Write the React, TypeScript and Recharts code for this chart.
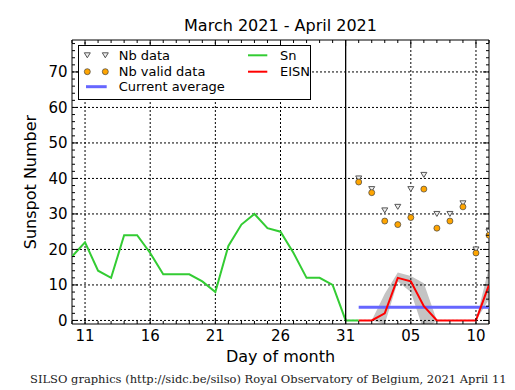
import React from "react";
import {
  ComposedChart, Line, Area, Scatter, XAxis, YAxis,
  ReferenceLine, ReferenceArea, Legend,
} from "recharts";

// ─── SILSO daily sunspot plot, March – April 2021 ───────────────────────────

// Sn (definitive daily number), one value per day of March (10 … 31) and Apr 1 (= day 32)
const SN_DAYS   = [10, 11, 12, 13, 14, 15, 16, 17, 18, 19, 20, 21, 22, 23, 24, 25, 26, 27, 28, 29, 30, 31, 32];
const SN_VALUES = [18, 22, 14, 12, 24, 24, 19, 13, 13, 13, 11, 8, 21, 27, 30, 26, 25, 19, 12, 12, 10, 0, 0];

// EISN (estimated), April days counted on from March 31
const EISN_DAYS   = [32, 33, 34, 35, 36, 37, 38, 39, 40, 41, 42];
const EISN_VALUES = [0, 0, 2, 12, 11, 4, 0, 0, 0, 0, 10];
const EISN_LOW    = [0, 0, -1, 11, 8, -3, 0, 0, 0, 0, 6];
const EISN_HIGH   = [0, 0, 7.5, 13.5, 12.5, 10.5, 0, 0, 0, 0, 15];

const CURRENT_AVERAGE = 3.7;

// station counts
const NB_DAYS  = [32, 33, 34, 35, 36, 37, 38, 39, 40, 41, 42];
const NB_RAW   = [40, 37, 31, 32, 37, 41, 30, 30, 33, 20, 25];
const NB_VALID = [39, 36, 28, 27, 29, 37, 26, 28, 32, 19, 24];

// axes
const X_DOMAIN      = [10, 42];
const X_MAJOR       = [11, 16, 21, 26, 31, 36, 41];
const X_MAJOR_LABEL = ["11", "16", "21", "26", "31", "05", "10"];
const Y_DOMAIN      = [-1, 79];
const Y_MAJOR       = [0, 10, 20, 30, 40, 50, 60, 70];

const X_MINOR = Array.from({ length: 33 }, (_, i) => 10 + i);
const Y_MINOR = Array.from({ length: 40 }, (_, i) => i * 2);

// ─── layout ─────────────────────────────────────────────────────────────────
const W = 515, H = 390;
const PLOT = { left: 72, right: 489, top: 40, bottom: 324 };
const FONT  = "'DejaVu Sans', sans-serif";
const SERIF = "'DejaVu Serif', serif";
const GRID = { stroke: "#000", strokeWidth: 1, strokeDasharray: "2 2" };

const table = (() => {
  const rows = new Map<number, Record<string, unknown>>();
  const row = (d: number) => {
    if (!rows.has(d)) rows.set(d, { day: d });
    return rows.get(d)!;
  };
  SN_DAYS.forEach((d, i) => { row(d).sn = SN_VALUES[i]; });
  EISN_DAYS.forEach((d, i) => {
    const r = row(d);
    r.eisn = EISN_VALUES[i];
    r.band = [EISN_LOW[i], EISN_HIGH[i]];
    r.avg  = CURRENT_AVERAGE;
  });
  return [...rows.values()].sort((a, b) => (a.day as number) - (b.day as number));
})();

const nbRaw   = NB_DAYS.map((day, i) => ({ day, nb: NB_RAW[i] }));
const nbValid = NB_DAYS.map((day, i) => ({ day, nb: NB_VALID[i] }));

// ticks point inwards, on all four sides, matplotlib style
function XTick(props: any) {
  const { x, payload } = props;
  const idx = X_MAJOR.indexOf(payload.value);
  const len = idx >= 0 ? 6 : 3;
  return (
    <g>
      <line x1={x} x2={x} y1={PLOT.bottom} y2={PLOT.bottom - len} stroke="#000" />
      <line x1={x} x2={x} y1={PLOT.top} y2={PLOT.top + len} stroke="#000" />
      {idx >= 0 && (
        <text x={x} y={PLOT.bottom + 17} textAnchor="middle" fontFamily={FONT} fontSize={15} fill="#000">
          {X_MAJOR_LABEL[idx]}
        </text>
      )}
    </g>
  );
}

function YTick(props: any) {
  const { y, payload } = props;
  const major = Y_MAJOR.includes(payload.value);
  const len = major ? 6 : 3;
  return (
    <g>
      <line x1={PLOT.left} x2={PLOT.left + len} y1={y} y2={y} stroke="#000" />
      <line x1={PLOT.right} x2={PLOT.right - len} y1={y} y2={y} stroke="#000" />
      {major && (
        <text x={PLOT.left - 4.5} y={y + 5.5} textAnchor="end" fontFamily={FONT} fontSize={15} fill="#000">
          {payload.value}
        </text>
      )}
    </g>
  );
}

const TriangleDown = (p: any) => (
  <path
    d={`M${p.cx - 3},${p.cy - 2.5} L${p.cx + 3},${p.cy - 2.5} L${p.cx},${p.cy + 2.5} Z`}
    fill="#eee" stroke="#555" strokeWidth={1}
  />
);
const Dot = (p: any) => <circle cx={p.cx} cy={p.cy} r={3} fill="#ffa500" stroke="#444" strokeWidth={0.7} />;

function LegendBox() {
  const t = { fontFamily: FONT, fontSize: 13, fill: "#000", dominantBaseline: "central" as const };
  return (
    <svg width={233} height={55} style={{ display: "block" }}>
      <rect x={0.5} y={0.5} width={232} height={54} fill="#fff" stroke="#000" />
      <TriangleDown cx={9.3} cy={10.3} />
      <TriangleDown cx={27.3} cy={10.3} />
      <text x={40.7} y={10.3} {...t}>Nb data</text>
      <Dot cx={9.3} cy={26.7} />
      <Dot cx={27.3} cy={26.7} />
      <text x={40.7} y={26.7} {...t}>Nb valid data</text>
      <line x1={8} x2={28.7} y1={41.7} y2={41.7} stroke="#6666ff" strokeWidth={3} />
      <text x={40.7} y={41.7} {...t}>Current average</text>
      <line x1={170} x2={189.3} y1={10.3} y2={10.3} stroke="#33cc33" strokeWidth={2} />
      <text x={202} y={10.3} {...t}>Sn</text>
      <line x1={170} x2={189.3} y1={26.7} y2={26.7} stroke="#ff0000" strokeWidth={2} />
      <text x={202} y={26.7} {...t}>EISN</text>
    </svg>
  );
}

export default function App() {
  return (
    <div style={{ position: "absolute", left: 0, top: 0, width: W, height: H, background: "#fff" }}>
      <ComposedChart
        width={W} height={H} data={table}
        margin={{ top: PLOT.top, right: W - PLOT.right, bottom: 0, left: 0 }}
      >
        <XAxis
          dataKey="day" type="number" domain={X_DOMAIN} ticks={X_MINOR} interval={0}
          allowDataOverflow height={H - PLOT.bottom} tick={XTick} tickLine={false} axisLine={false}
        />
        <YAxis
          type="number" domain={Y_DOMAIN} ticks={Y_MINOR} interval={0}
          allowDataOverflow width={PLOT.left} tick={YTick} tickLine={false} axisLine={false}
        />
        <ReferenceLine x={X_MAJOR[0]} {...GRID} />
        <ReferenceLine x={X_MAJOR[1]} {...GRID} />
        <ReferenceLine x={X_MAJOR[2]} {...GRID} />
        <ReferenceLine x={X_MAJOR[3]} {...GRID} />
        <ReferenceLine x={X_MAJOR[5]} {...GRID} />
        <ReferenceLine x={X_MAJOR[6]} {...GRID} />
        <ReferenceLine y={Y_MAJOR[0]} {...GRID} />
        <ReferenceLine y={Y_MAJOR[1]} {...GRID} />
        <ReferenceLine y={Y_MAJOR[2]} {...GRID} />
        <ReferenceLine y={Y_MAJOR[3]} {...GRID} />
        <ReferenceLine y={Y_MAJOR[4]} {...GRID} />
        <ReferenceLine y={Y_MAJOR[5]} {...GRID} />
        <ReferenceLine y={Y_MAJOR[6]} {...GRID} />
        <ReferenceLine y={Y_MAJOR[7]} {...GRID} />
        <Area dataKey="band" stroke="none" fill="#c4c4c4" fillOpacity={1} isAnimationActive={false} />
        <Line dataKey="sn" stroke="#33cc33" strokeWidth={2} dot={false} isAnimationActive={false} />
        <Line dataKey="avg" stroke="#6666ff" strokeWidth={3} dot={false} isAnimationActive={false} />
        <Line dataKey="eisn" stroke="#ff0000" strokeWidth={2} dot={false} isAnimationActive={false} />
        <Scatter data={nbRaw} dataKey="nb" shape={TriangleDown} isAnimationActive={false} />
        <Scatter data={nbValid} dataKey="nb" shape={Dot} isAnimationActive={false} />
        <ReferenceLine x={31} stroke="#000" strokeWidth={1.3} />
        <ReferenceArea
          x1={X_DOMAIN[0]} x2={X_DOMAIN[1]} y1={Y_DOMAIN[0]} y2={Y_DOMAIN[1]}
          fill="none" stroke="#000" strokeWidth={1} fillOpacity={0}
        />
        <Legend
          layout="horizontal" verticalAlign="middle" align="center"
          content={() => <LegendBox />}
          wrapperStyle={{ position: "absolute", left: 78, top: 45, width: 233, height: 55 }}
        />
      </ComposedChart>

      <svg width={W} height={H} style={{ position: "absolute", left: 0, top: 0, pointerEvents: "none" }}>
        <text x={(PLOT.left + PLOT.right) / 2} y={31} textAnchor="middle" fontFamily={FONT} fontSize={16}>
          March 2021 - April 2021
        </text>
        <text x={(PLOT.left + PLOT.right) / 2} y={362} textAnchor="middle" fontFamily={FONT} fontSize={16}>
          Day of month
        </text>
        <text
          transform={`translate(35.5 ${(PLOT.top + PLOT.bottom) / 2}) rotate(-90)`}
          textAnchor="middle" fontFamily={FONT} fontSize={16}
        >
          Sunspot Number
        </text>
        <text x={30} y={383} fontFamily={SERIF} fontSize={11.5} fill="#222">
          SILSO graphics (http://sidc.be/silso) Royal Observatory of Belgium, 2021 April 11
        </text>
      </svg>
    </div>
  );
}
